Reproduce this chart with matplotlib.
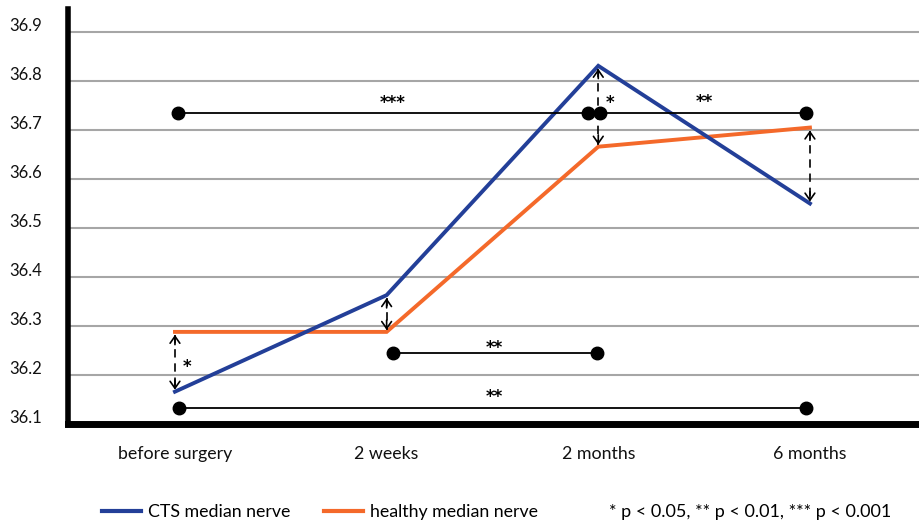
import matplotlib
matplotlib.use("Agg")
import matplotlib.pyplot as plt
from matplotlib.lines import Line2D
from matplotlib.transforms import ScaledTranslation

plt.rcParams['font.family'] = ['Lato', 'DejaVu Sans']

# ---- data ----
categories = ["before surgery", "2 weeks", "2 months", "6 months"]
cts_values = [36.165, 36.362, 36.830, 36.549]
healthy_values = [36.287, 36.287, 36.665, 36.704]
y_ticks = [36.1, 36.2, 36.3, 36.4, 36.5, 36.6, 36.7, 36.8, 36.9]
series_labels = ["CTS median nerve", "healthy median nerve"]
p_note = "* p < 0.05, ** p < 0.01, *** p < 0.001"

# significance bars between time points: (x_start, x_end, y, label, label_x, label_y)
sig_bars = [
    (0.015, 1.95, 36.734, "***", 1.03, 36.764),
    (2.01, 2.98, 36.734, "**", 2.5, 36.766),
    (1.03, 1.995, 36.244, "**", 1.51, 36.264),
    (0.02, 2.98, 36.132, "**", 1.51, 36.164),
]
# between-group differences at time points: (label, x, y)
group_sig = [("*", 0.057, 36.2255), ("*", 2.055, 36.764)]
arrow_points = [0, 1, 2, 3]

blue = "#233f98"
orange = "#f4692a"

fig = plt.figure(figsize=(9.2, 5.29), dpi=100)
ax = fig.add_axes([0.074, 0.1994, 0.926, 0.7836])

x = list(range(len(categories)))
ax.set_xlim(-0.505, 3.52)
ax.set_ylim(36.1, 36.946)

ax.set_yticks(y_ticks)
ax.set_yticklabels([f"{v:.1f}" for v in y_ticks], fontsize=12, color="#111111")
ax.set_xticks(x)
ax.set_xticklabels(categories, fontsize=12.8, color="#111111")
ax.tick_params(axis="both", length=0)
ax.tick_params(axis="y", pad=19)
ax.tick_params(axis="x", pad=16)
for lbl in ax.get_yticklabels():
    lbl.set_transform(lbl.get_transform() + ScaledTranslation(0, 7 / 100, fig.dpi_scale_trans))

ax.yaxis.grid(True, color="#a6a6a6", linewidth=1.5)
ax.set_axisbelow(True)
for s in ["top", "right"]:
    ax.spines[s].set_visible(False)
ax.spines["left"].set_linewidth(4)
ax.spines["bottom"].set_linewidth(5)
ax.spines["left"].set_color("black")
ax.spines["bottom"].set_color("black")

ax.plot(x, healthy_values, color=orange, linewidth=2.8, solid_joinstyle="miter", zorder=3)
ax.plot(x, cts_values, color=blue, linewidth=2.8, solid_joinstyle="miter", zorder=3)

# dashed double arrows between groups
for i in arrow_points:
    hi = max(cts_values[i], healthy_values[i])
    lo = min(cts_values[i], healthy_values[i])
    top = hi - 0.006
    bot = lo + 0.004
    ax.plot([i, i], [top, bot], color="black", linewidth=1.2, dashes=(5, 3.5), zorder=4)
    for end, start in [(top, top - 0.02), (bot, bot + 0.02)]:
        ax.annotate("", xy=(i, end), xytext=(i, start),
                    arrowprops=dict(arrowstyle="->,head_length=0.5,head_width=0.35",
                                    color="black", lw=1.2, shrinkA=0, shrinkB=0),
                    zorder=4)

star_font = dict(family="DejaVu Sans", fontsize=12, fontweight="bold")

def star(lab, sx, sy):
    ax.annotate(lab, xy=(sx, sy), xytext=(0, -7.2), textcoords="offset points",
                ha="center", va="baseline", zorder=6, **star_font)

# significance bars
for x0, x1, y, lab, lx, ly in sig_bars:
    ax.plot([x0, x1], [y, y], color="black", linewidth=1.3, zorder=5)
    ax.plot([x0, x1], [y, y], linestyle="none", marker="o", markersize=9,
            color="black", zorder=6)
    star(lab, lx, ly)

for lab, sx, sy in group_sig:
    star(lab, sx, sy)

# legend
handles = [Line2D([0], [0], color=blue, linewidth=3),
           Line2D([0], [0], color=orange, linewidth=3)]
fig.legend(handles, series_labels, loc="center left", bbox_to_anchor=(0.093, 0.032),
           ncol=2, frameon=False, fontsize=12.8, handlelength=2.2, handletextpad=0.4,
           columnspacing=1.9)
fig.text(0.662, 0.032, p_note, ha="left", va="center", fontsize=13)

fig.savefig("out.png", dpi=100)
